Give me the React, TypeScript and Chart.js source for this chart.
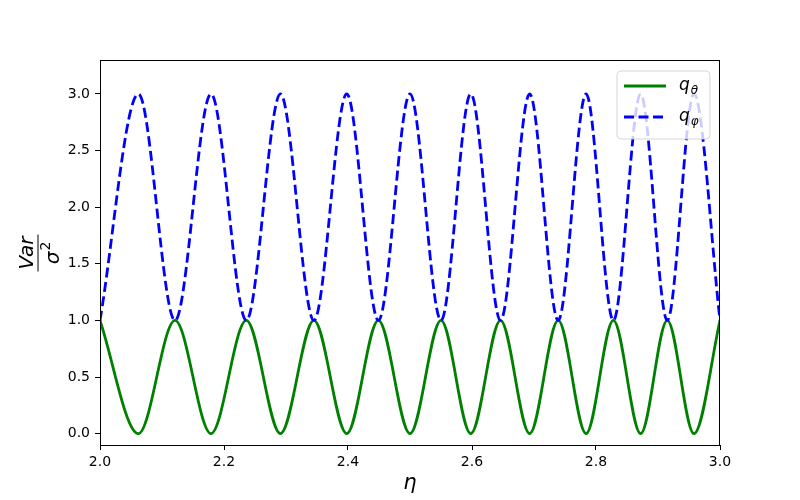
import React, { useEffect, useRef } from "react";
import { Chart, registerables } from "chart.js";

Chart.register(...registerables);

// η positions of the extrema
const ETA = [
  2.0, 2.062, 2.121, 2.179, 2.236, 2.291, 2.345, 2.398, 2.449, 2.5, 2.55,
  2.598, 2.646, 2.693, 2.739, 2.784, 2.828, 2.872, 2.915, 2.958, 3.0,
];
const Q_THETA = [1, 0, 1, 0, 1, 0, 1, 0, 1, 0, 1, 0, 1, 0, 1, 0, 1, 0, 1, 0, 1];
const Q_PHI = [1, 3, 1, 3, 1, 3, 1, 3, 1, 3, 1, 3, 1, 3, 1, 3, 1, 3, 1, 3, 1];
const X_TICKS = [2.0, 2.2, 2.4, 2.6, 2.8, 3.0];
const Y_TICKS = [0.0, 0.5, 1.0, 1.5, 2.0, 2.5, 3.0];

const GREEN = "#008000";
const BLUE = "#0000ff";
const TICK_FONT = { family: "'DejaVu Sans', sans-serif", size: 14 };

const decorPlugin = {
  id: "decor",
  afterDraw(chart: any) {
    const { ctx, chartArea: a } = chart;
    ctx.save();
    // frame
    ctx.strokeStyle = "#000";
    ctx.lineWidth = 1;
    ctx.strokeRect(a.left + 0.5, a.top + 0.5, a.right - a.left - 1, a.bottom - a.top);

    // legend
    const lx = 617, ly = 71, lw = 93, lh = 68, r = 4;
    ctx.beginPath();
    ctx.moveTo(lx + r, ly);
    ctx.arcTo(lx + lw, ly, lx + lw, ly + lh, r);
    ctx.arcTo(lx + lw, ly + lh, lx, ly + lh, r);
    ctx.arcTo(lx, ly + lh, lx, ly, r);
    ctx.arcTo(lx, ly, lx + lw, ly, r);
    ctx.closePath();
    ctx.fillStyle = "rgba(255,255,255,0.8)";
    ctx.fill();
    ctx.strokeStyle = "rgba(204,204,204,0.8)";
    ctx.lineWidth = 1;
    ctx.stroke();

    const rows = [
      { y: 86, color: GREEN, dash: [] as number[], sub: "θ" },
      { y: 117, color: BLUE, dash: [10, 4.5], sub: "φ" },
    ];
    for (const row of rows) {
      ctx.beginPath();
      ctx.setLineDash(row.dash);
      ctx.strokeStyle = row.color;
      ctx.lineWidth = 2.8;
      ctx.moveTo(624, row.y);
      ctx.lineTo(666, row.y);
      ctx.stroke();
      ctx.setLineDash([]);
      ctx.fillStyle = "#000";
      ctx.textBaseline = "alphabetic";
      ctx.textAlign = "left";
      ctx.font = "italic 17px 'DejaVu Sans'";
      ctx.fillText("q", 679, row.y + 4);
      const qw = ctx.measureText("q").width;
      ctx.font = "italic 12px 'DejaVu Sans'";
      ctx.fillText(row.sub, 679 + qw + 1, row.y + 8);
    }

    // x label
    ctx.fillStyle = "#000";
    ctx.font = "italic 21px 'DejaVu Sans'";
    ctx.textAlign = "center";
    ctx.fillText("η", 410, 489);

    // y label: fraction Var / σ², rotated
    ctx.translate(40, 253);
    ctx.rotate(-Math.PI / 2);
    ctx.font = "italic 20px 'DejaVu Sans'";
    ctx.textAlign = "center";
    ctx.fillText("Var", 0, -7);
    ctx.beginPath();
    ctx.strokeStyle = "#000";
    ctx.lineWidth = 1;
    ctx.moveTo(-18.5, -2);
    ctx.lineTo(18.5, -2);
    ctx.stroke();
    ctx.textAlign = "left";
    const sw = ctx.measureText("σ").width;
    ctx.font = "14px 'DejaVu Sans'";
    const tw = ctx.measureText("2").width;
    const start = -(sw + tw + 1) / 2;
    ctx.font = "italic 20px 'DejaVu Sans'";
    ctx.fillText("σ", start, 19);
    ctx.font = "14px 'DejaVu Sans'";
    ctx.fillText("2", start + sw + 1, 10);
    ctx.restore();
  },
};

export default function App() {
  const ref = useRef<HTMLCanvasElement | null>(null);
  useEffect(() => {
    document.body.style.margin = "0";
    const canvas = ref.current;
    if (!canvas) return;
    const mk = (ys: number[]) => ETA.map((x, i) => ({ x, y: ys[i] }));
    const chart = new Chart(canvas, {
      type: "line",
      data: {
        datasets: [
          {
            label: "q_theta",
            data: mk(Q_THETA),
            borderColor: GREEN,
            borderWidth: 2.8,
            pointRadius: 0,
            fill: false,
            cubicInterpolationMode: "monotone",
            order: 1,
          },
          {
            label: "q_phi",
            data: mk(Q_PHI),
            borderColor: BLUE,
            borderWidth: 2.8,
            borderDash: [10, 4.5],
            pointRadius: 0,
            fill: false,
            cubicInterpolationMode: "monotone",
            order: 0,
          },
        ],
      },
      options: {
        responsive: false,
        animation: false,
        layout: { padding: { left: 40, right: 80, top: 60, bottom: 25 } },
        plugins: { legend: { display: false }, tooltip: { enabled: false } },
        scales: {
          x: {
            type: "linear",
            min: 2,
            max: 3,
            afterBuildTicks: (s: any) => {
              s.ticks = X_TICKS.map((v) => ({ value: v }));
            },
            afterFit: (s: any) => {
              s.height = 30;
            },
            ticks: {
              color: "#000",
              font: TICK_FONT,
              padding: 4,
              maxRotation: 0,
              callback: (v: any) => Number(v).toFixed(1),
            },
            grid: {
              display: true,
              drawOnChartArea: false,
              drawTicks: true,
              tickLength: 5,
              color: "#000",
            },
            border: { display: true, color: "#000", width: 1 },
          },
          y: {
            type: "linear",
            min: -0.1,
            max: 3.3,
            afterBuildTicks: (s: any) => {
              s.ticks = Y_TICKS.map((v) => ({ value: v }));
            },
            afterFit: (s: any) => {
              s.width = 60;
            },
            ticks: {
              color: "#000",
              font: TICK_FONT,
              padding: 5,
              callback: (v: any) => Number(v).toFixed(1),
            },
            grid: {
              display: true,
              drawOnChartArea: false,
              drawTicks: true,
              tickLength: 5,
              color: "#000",
            },
            border: { display: true, color: "#000", width: 1 },
          },
        },
      },
      plugins: [decorPlugin],
    } as any);
    return () => chart.destroy();
  }, []);
  return (
    <div style={{ width: 800, height: 500 }}>
      <canvas ref={ref} width={800} height={500} style={{ display: "block" }} />
    </div>
  );
}
